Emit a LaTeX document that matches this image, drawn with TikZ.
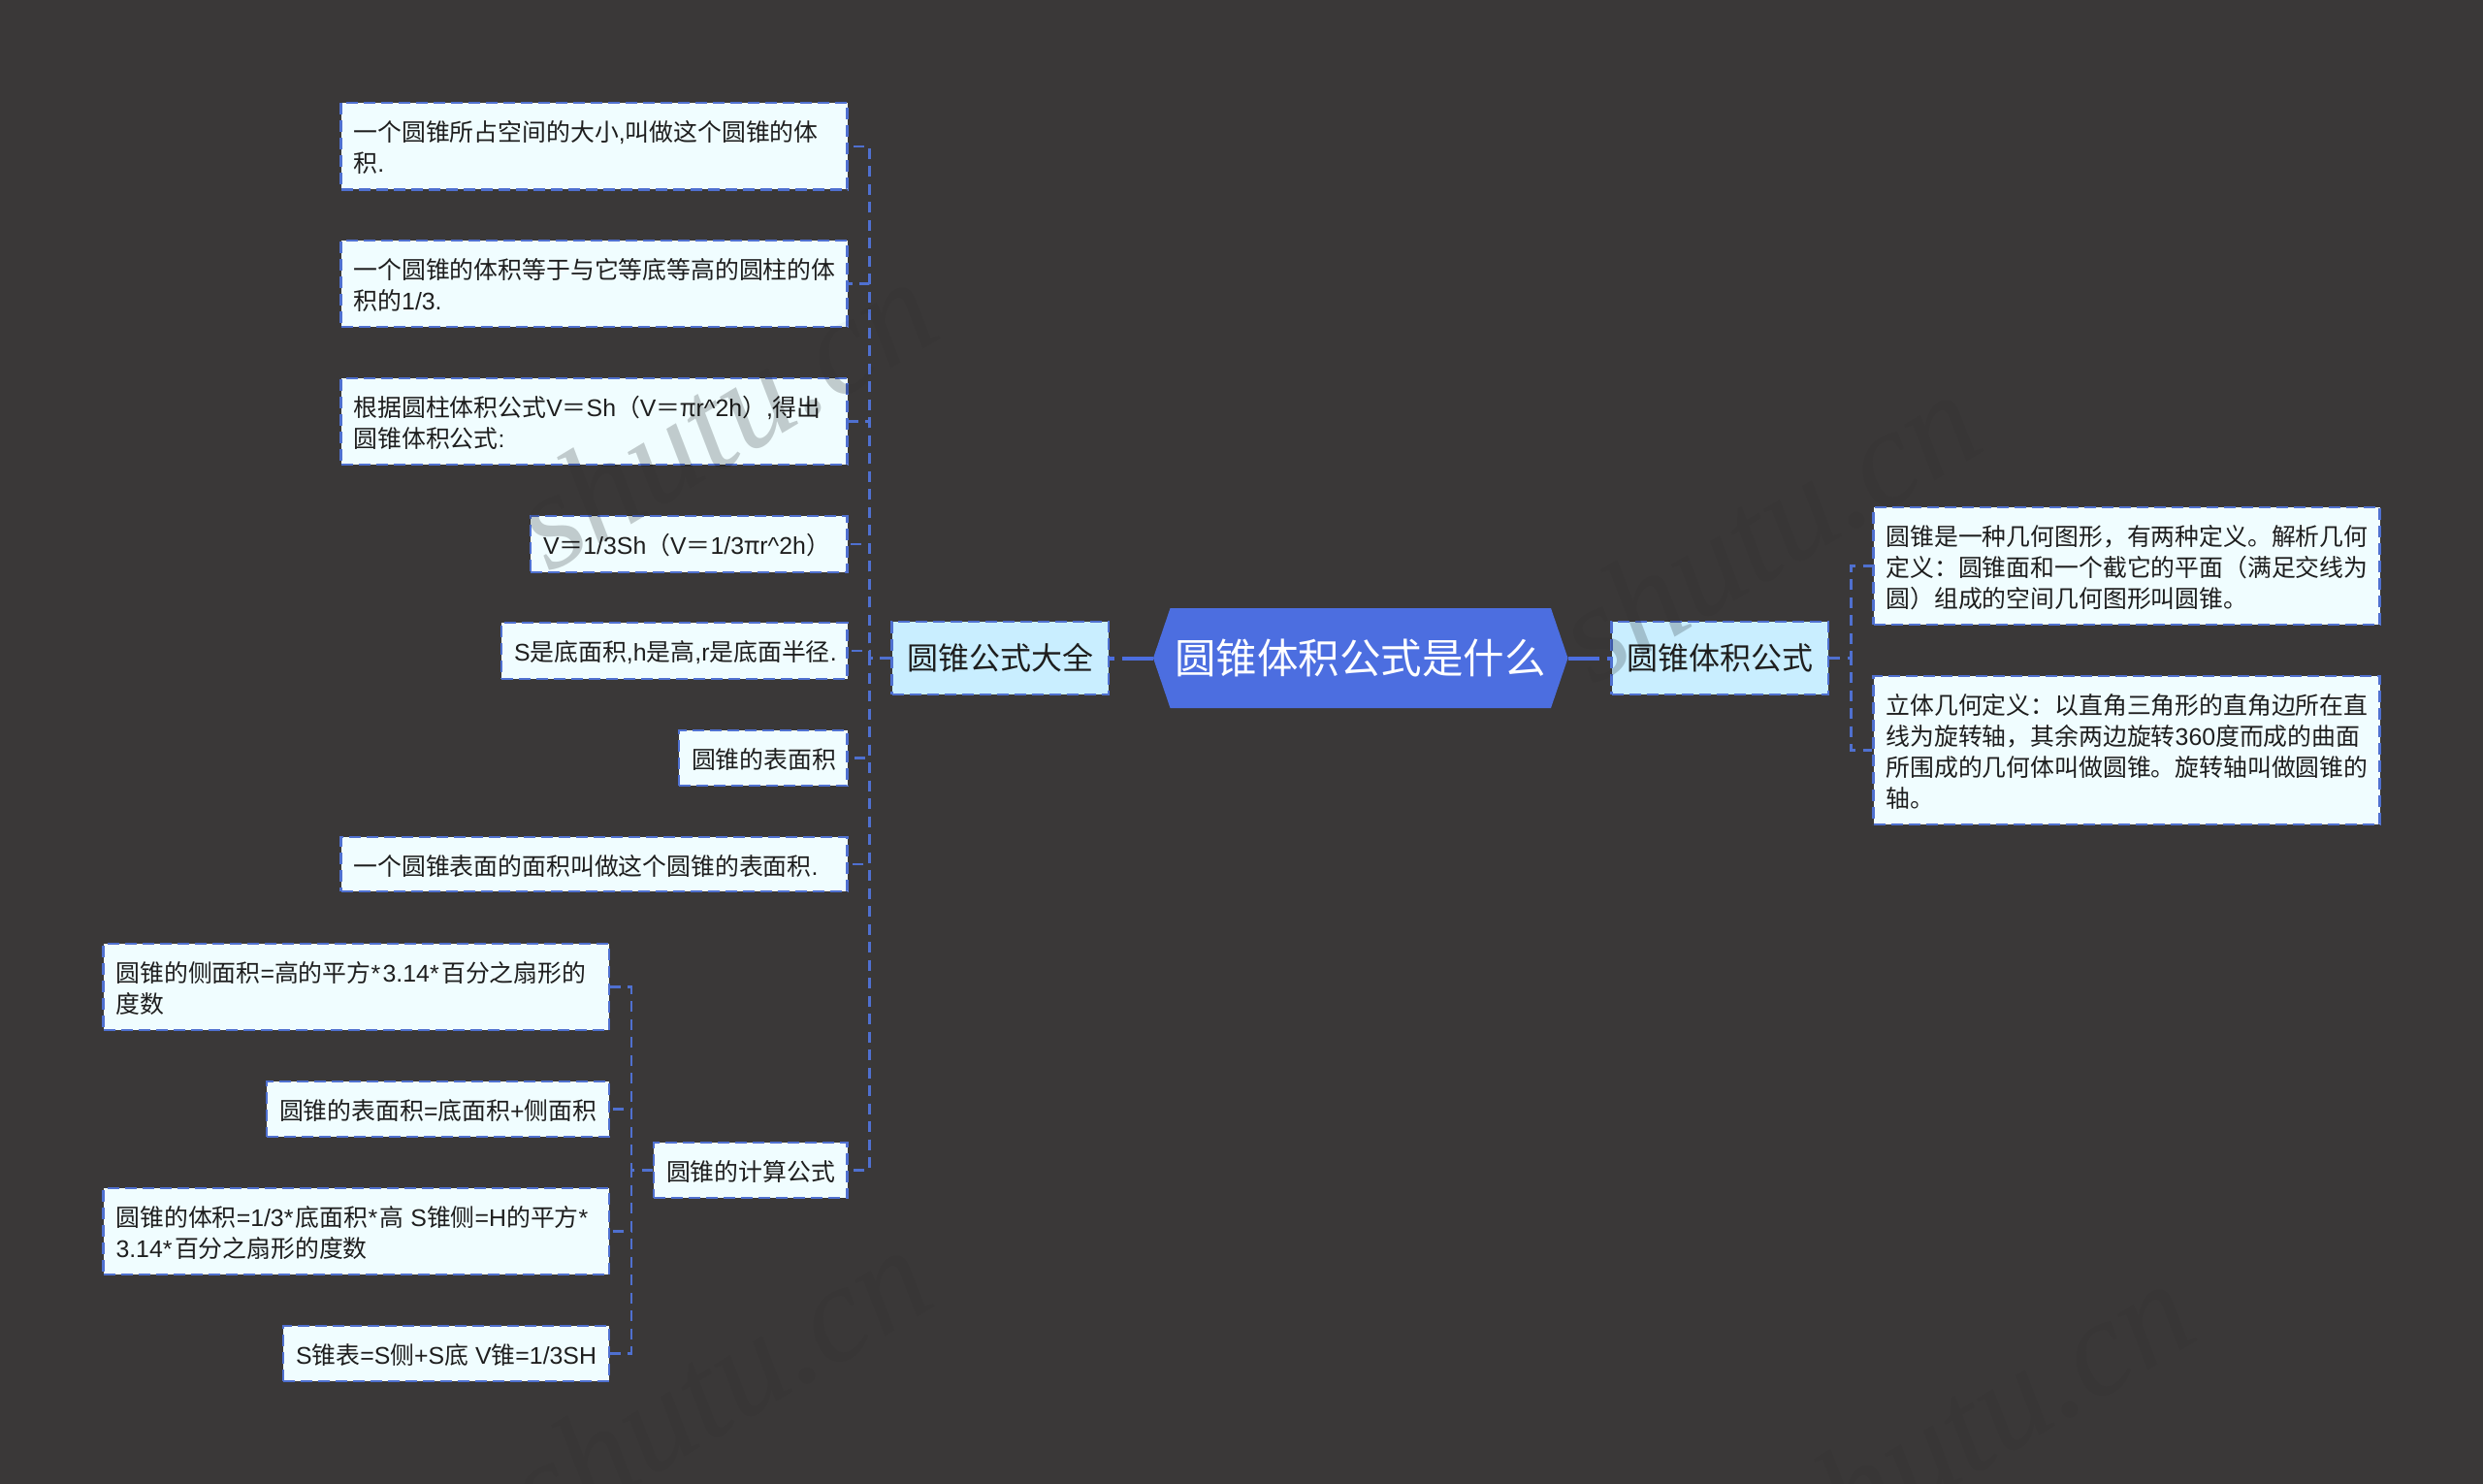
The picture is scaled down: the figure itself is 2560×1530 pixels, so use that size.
\documentclass[tikz,border=0pt]{standalone}
\usepackage{fontspec}
\setmainfont{Noto Sans CJK SC}
\newfontfamily\wmfont{Liberation Serif}
\newfontfamily\latf{Liberation Sans}
\newcommand{\la}[1]{{\latf #1}}
\newcommand{\st}{{\latf *}\kern 2.5pt}
\definecolor{bgc}{HTML}{3A3838}
\definecolor{linec}{HTML}{4F70D0}
\definecolor{rootc}{HTML}{4C6EE0}
\definecolor{leafc}{HTML}{F0FDFF}
\definecolor{catc}{HTML}{C9EEFF}
\definecolor{inkc}{HTML}{1E1E1E}
\tikzset{
  x=1pt,y=-1pt,
  boxbase/.style={draw=linec,line width=2.2pt,dash pattern=on 12pt off 6pt,text=inkc,inner xsep=13pt,inner ysep=0pt,anchor=center},
  leafbox/.style={boxbase,fill=leafc,font=\fontsize{24.85}{32}\selectfont},
  catbox/.style={boxbase,fill=catc,align=center,inner xsep=0pt,font=\fontsize{32}{38}\selectfont},
  rootshape/.style={fill=rootc},
  roottext/.style={text=white,inner sep=0pt,minimum width=428pt,minimum height=103pt,anchor=center,font=\fontsize{42.5}{50}\selectfont},
  mainconn/.style={draw=rootc,line width=4pt,dash pattern=on 32pt off 8pt},
  subconn/.style={draw=linec,line width=2.3pt,dash pattern=on 11pt off 7.5pt},
  wmarkbase/.style={rotate=31,anchor=base west,inner sep=0pt,font=\fontsize{142}{150}\wmfont\itshape\selectfont},
  wmfaint/.style={wmarkbase,text=black,text opacity=.03},
  wmstrong/.style={wmarkbase,text=black,text opacity=.17},
}
\newcommand{\lbox}[6]{%
  \pgfmathsetmacro{\bw}{#4-#2}\pgfmathsetmacro{\bh}{#5-#3}%
  \pgfmathsetmacro{\bx}{(#4+#2)/2}\pgfmathsetmacro{\by}{(#5+#3)/2}%
  \pgfmathsetmacro{\tw}{\bw-26}%
  \node[leafbox,minimum height=\bh pt] (#1) at (\bx,\by) {\raisebox{-1.5pt}[\height][\depth]{\parbox{\tw pt}{\raggedright #6}}};}
\newcommand{\cbox}[6]{%
  \pgfmathsetmacro{\bw}{#4-#2}\pgfmathsetmacro{\bh}{#5-#3}%
  \pgfmathsetmacro{\bx}{(#4+#2)/2}\pgfmathsetmacro{\by}{(#5+#3)/2}%
  \node[catbox,minimum width=\bw pt,minimum height=\bh pt] (#1) at (\bx,\by) {#6};}
\newcommand{\wmarks}[1]{%
  \node[#1] (wa#1) at (566,592) {shutu.cn};
  \node[#1] (wb#1) at (1642,708) {shutu.cn};
  \node[#1] (wc#1) at (560,1590) {shutu.cn};
  \node[#1] (wd#1) at (1862,1625) {shutu.cn};}
\begin{document}
\begin{tikzpicture}
\fill[bgc] (0,0) rectangle (2560,1530);
\useasboundingbox (0,0) rectangle (2560,1530);
% connector junctions
\coordinate (jl) at (896.5,678.5);
\coordinate (jr) at (1908.5,678.5);
\coordinate (jc) at (651,1206.5);
% nodes
\fill[rootshape] (1189,678.5) -- (1206.5,627) -- (1599,627) -- (1616.5,678.5) -- (1599,730) -- (1206.5,730) -- cycle;
\node[roottext] (root) at (1402.7,678.5) {圆锥体积公式是什么};
\cbox{catl}{919.5}{641}{1143}{716}{圆锥公式大全}
\cbox{catr}{1661.5}{641}{1885}{716}{圆锥体积公式}
\lbox{l1}{351.5}{106}{873.5}{195.5}{一个圆锥所占空间的大小\la{,}叫做这个圆锥的体\\积\la{.}}
\lbox{l2}{351.5}{248}{873.5}{337}{一个圆锥的体积等于与它等底等高的圆柱的体\\积的\la{1/3.}}
\lbox{l3}{351.5}{390}{873.5}{479}{根据圆柱体积公式\la{V}＝\la{Sh}（\la{V}＝π\la{r\^{}2h}）\la{,}得出\\圆锥体积公式\la{:}}
\lbox{l4}{547}{532}{873.5}{590}{\la{V}＝\la{1/3Sh}（\la{V}＝\la{1/3}π\la{r\^{}2h}）}
\lbox{l5}{517}{642}{873.5}{700}{\la{S}是底面积\la{,h}是高\la{,r}是底面半径\la{.}}
\lbox{l6}{700}{753}{873.5}{810}{圆锥的表面积}
\lbox{l7}{351.5}{863}{873.5}{919}{一个圆锥表面的面积叫做这个圆锥的表面积\la{.}}
\lbox{l8}{674}{1178}{873.5}{1235}{圆锥的计算公式}
\lbox{m1}{106.5}{973}{628}{1062}{圆锥的侧面积\la{=}高的平方\st\la{3.14}\st 百分之扇形的\\度数}
\lbox{m2}{275}{1115}{628}{1172}{圆锥的表面积\la{=}底面积\la{+}侧面积}
\lbox{m3}{106.5}{1225}{628}{1314}{圆锥的体积\la{=1/3}\st 底面积\st 高\la{ S}锥侧\la{=H}的平方\st\\\la{3.14}\st 百分之扇形的度数}
\lbox{m4}{292}{1367}{628}{1424}{\la{S}锥表\la{=S}侧\la{+S}底\la{ V}锥\la{=1/3SH}}
\lbox{r1}{1931.5}{523}{2453.5}{644}{圆锥是一种几何图形，有两种定义。解析几何\\定义：圆锥面和一个截它的平面（满足交线为\\圆）组成的空间几何图形叫圆锥。}
\lbox{r2}{1931.5}{697}{2453.5}{850}{立体几何定义：以直角三角形的直角边所在直\\线为旋转轴，其余两边旋转\la{360}度而成的曲面\\所围成的几何体叫做圆锥。旋转轴叫做圆锥的\\轴。}
% connectors
\draw[mainconn] (root.west -| 1189,0) -- (catl.east);
\draw[mainconn] (root.east -| 1616.5,0) -- (catr.west);
\foreach \c in {l1,l2,l3,l4,l5,l6,l7,l8} \draw[subconn] (catl.west) -- (jl) |- (\c.east);
\foreach \c in {r1,r2} \draw[subconn] (catr.east) -- (jr) |- (\c.west);
\foreach \c in {m1,m2,m3,m4} \draw[subconn] (l8.west) -- (jc) |- (\c.east);
% watermark
\begin{scope}
\clip (0,0) rectangle (2560,1530);
\wmarks{wmfaint}
\end{scope}
\begin{scope}
\clip (l3.north west) rectangle (l3.south east) (l4.north west) rectangle (l4.south east) (l5.north west) rectangle (l5.south east) (catr.north west) rectangle (catr.south east) (r1.north west) rectangle (r1.south east);
\wmarks{wmstrong}
\end{scope}
\end{tikzpicture}
\end{document}
